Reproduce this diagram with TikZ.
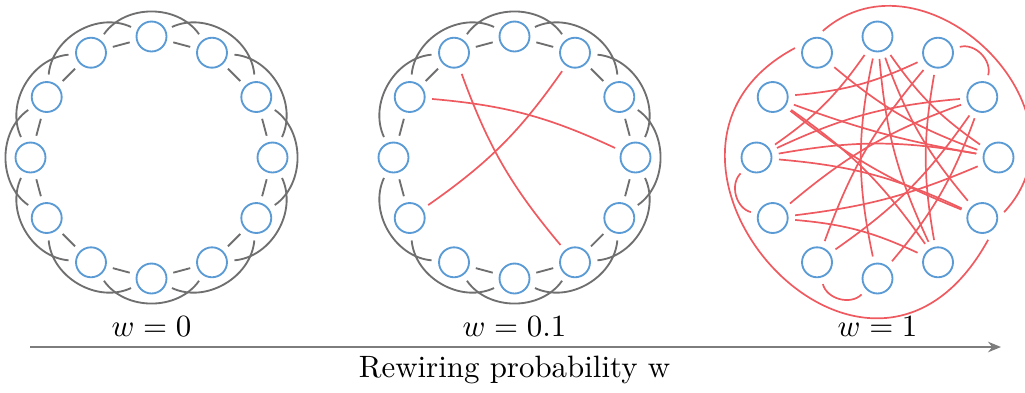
\documentclass[tikz,border=0pt]{standalone}
\usetikzlibrary{arrows.meta}
\definecolor{ringgray}{HTML}{6F6F6F}
\definecolor{nodeblue}{HTML}{5B9BD5}
\definecolor{wirered}{HTML}{EE5A5F}
\tikzset{
  >=Stealth,
  %% nodes
  vertex/.style   = {circle, draw=nodeblue, line width=0.6pt, fill=white,
                     minimum size=9.7pt, inner sep=0pt, outer sep=2.45pt},
  %% edges
  ring/.style     = {draw=ringgray, line width=0.6pt},
  rewired/.style  = {draw=wirered, line width=0.55pt},
  axisline/.style = {-{Stealth[length=4.2pt,width=3.4pt]}, draw=ringgray!90, line width=0.8pt},
  %% annotations
  lbl/.style      = {text=black, inner sep=1pt},
}
\begin{document}
\begin{tikzpicture}[x=0.3237pt, y=0.3237pt]
\useasboundingbox (0,0) rectangle (1025,392);

%% ============ w = 0 : ring lattice ============
\begin{scope}[shift={(151.5,234.5)}]
  \foreach \k in {0,...,11}
    \node[vertex] (l\k) at ({90-30*\k}:121) {};
  \foreach \k in {0,...,11}{
    \pgfmathtruncatemacro\n{mod(\k+1,12)}
    \pgfmathtruncatemacro\m{mod(\k+2,12)}
    \draw[ring] (l\k) -- (l\n);
    \draw[ring] (l\k) to[bend left=55] (l\m);
  }
\end{scope}

%% ============ w = 0.1 : a few rewired ============
\begin{scope}[shift={(514.5,234.5)}]
  \foreach \k in {0,...,11}
    \node[vertex] (s\k) at ({90-30*\k}:121) {};
  \foreach \k in {0,...,11}{
    \pgfmathtruncatemacro\n{mod(\k+1,12)}
    \pgfmathtruncatemacro\m{mod(\k+2,12)}
    \ifnum\k=7 \else \draw[ring] (s\k) -- (s\n); \fi
    \ifnum\k=8 \else \draw[ring] (s\k) to[bend left=55] (s\m); \fi
  }
  \draw[rewired] (s11) to[bend right=10] (s5);
  \draw[rewired] (s10) to[bend left=10] (s3);
  \draw[rewired] (s8) to[bend right=10] (s1);
\end{scope}

%% ============ w = 1 : random ============
\begin{scope}[shift={(877.5,234.5)}]
  \foreach \k in {0,...,11}
    \node[vertex] (r\k) at ({90-30*\k}:121) {};
  \foreach \a/\b/\c in {0/9/10, 0/6/-12, 0/5/-10, 0/4/-10, 0/3/-10,
                        10/1/-10, 10/3/-5, 10/4/-8, 10/5/10, 1/5/-10,
                        1/7/-10, 8/2/10, 9/2/10, 9/3/10, 9/4/10,
                        8/3/-8, 8/5/10, 7/2/-10, 6/2/-10, 11/3/-10}
    \draw[rewired] (r\a) to[bend left=\c] (r\b);
  %% detours round the outside
  \draw[rewired] (r7) to[bend right=60] (r6);
  \draw[rewired] (r9) to[bend right=60] (r8);
  \draw[rewired] (r1) to[bend left=60] (r2);
  \draw[rewired] (r11.75) .. controls (46.5,215.5) and (221.5,47.5) .. (r4.15);
  \draw[rewired] (r11.168) .. controls (-279.5,4.5) and (-11.5,-304.5) .. (r4.285);
\end{scope}

%% ============ labels and axis ============
\node[lbl] (wzero)  at (151.5,65) {$w=0$};
\node[lbl] (wsmall) at (514.5,65) {$w=0.1$};
\node[lbl] (wone)   at (877.5,65) {$w=1$};
\coordinate (axstart) at (30,45);
\coordinate (axend)   at (1001,45);
\draw[axisline] (axstart) -- (axend);
\node[lbl] (axlabel) at (514.5,22) {Rewiring probability w};

\end{tikzpicture}
\end{document}
